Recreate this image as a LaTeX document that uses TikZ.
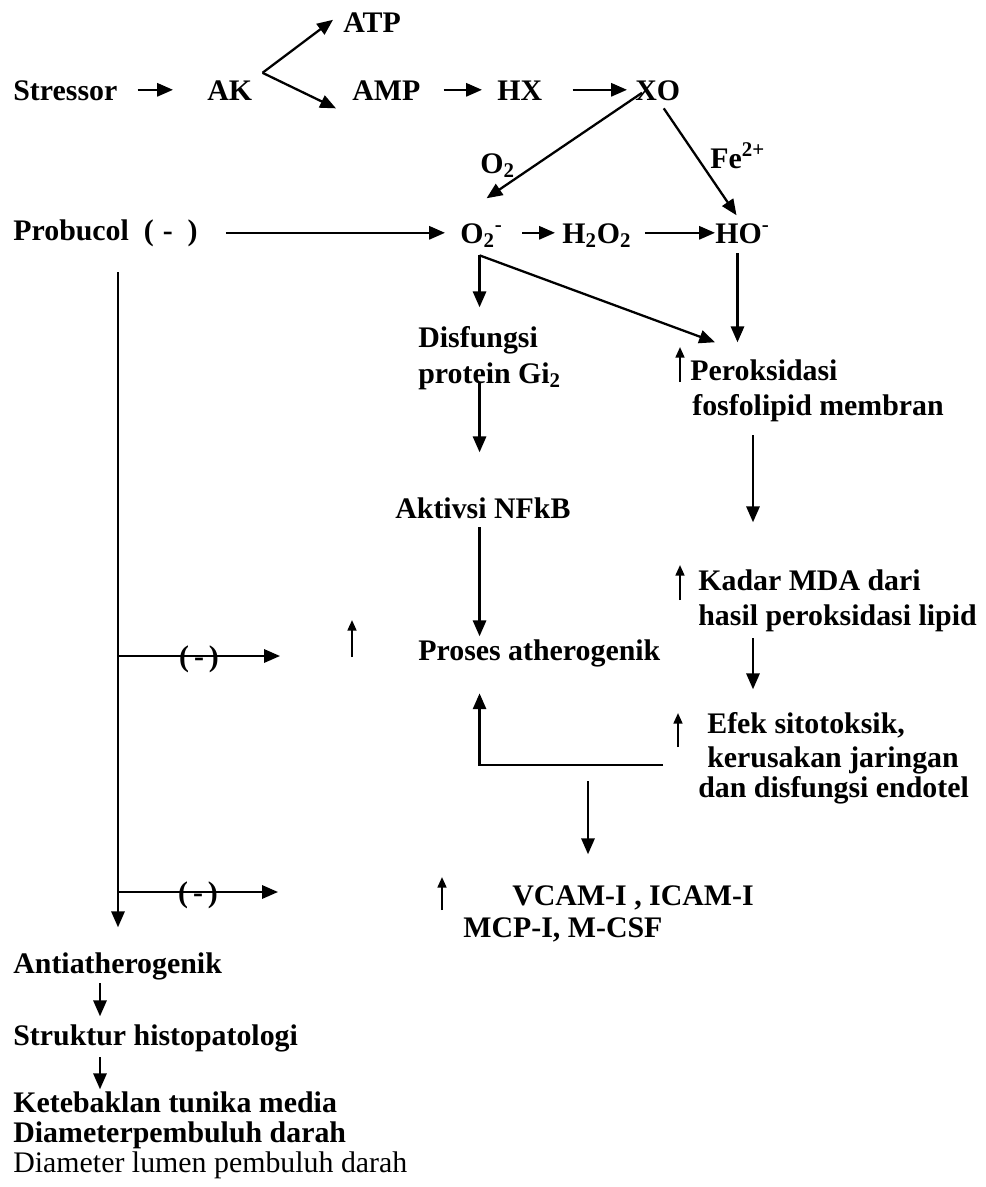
\documentclass[tikz,border=0pt]{standalone}
\usepackage{fontspec}
\setmainfont{Liberation Serif}
\usetikzlibrary{arrows.meta}
\newdimen\pxu \pxu=0.02cm
\tikzset{
  txt/.style={inner sep=0pt, anchor=base west, text height=11.6pt, text depth=0pt,
    font=\fontsize{17}{20}\selectfont\bfseries},
  plain/.style={txt, font=\fontsize{17}{20}\selectfont},
  arr/.style={line width=1.3pt, -{Triangle[length=9pt,width=7.5pt]}},
  incr/.style={line width=1.2pt, -{Triangle[length=6pt,width=5pt]}},
}
\begin{document}
\begin{tikzpicture}[x=0.02cm, y=-0.02cm]
\useasboundingbox (0,0) rectangle (985,1187);
%% top row
\node[txt] (stressor) at (13,100) {Stressor};
\node[txt] (ak) at (207,100) {AK};
\node[txt] (atp) at (343,32) {ATP};
\node[txt] (amp) at (352,100) {AMP};
\node[txt] (hx) at (497,100) {HX};
\node[txt] (xo) at (635,100) {XO};
\draw[arr, shorten <=20*\pxu, shorten >=34*\pxu] (stressor) -- (ak);
\coordinate (akfork) at ([shift={(10,-17)}]ak.east);
\draw[arr] (akfork) -- ([shift={(-10,-2)}]atp.west);
\draw[arr] (akfork) -- ([shift={(-16,8)}]amp.south west);
\draw[arr, shorten <=23*\pxu, shorten >=15*\pxu] (amp) -- (hx);
\draw[arr, shorten <=30*\pxu, shorten >=8*\pxu] (hx) -- (xo);
%% radicals
\node[txt] (lblO) at (480,173) {O\textsubscript{2}};
\node[txt] (lblFe) at (710,168) {Fe\textsuperscript{2+}};
\node[txt] (probucol) at (13,240) {Probucol\hspace{0.5em}(\hspace{0.3em}-\hspace{0.5em})};
\node[txt] (o2m) at (460,243) {O\textsubscript{2}\textsuperscript{-}};
\node[txt] (h2o2) at (562,243) {H\textsubscript{2}O\textsubscript{2}};
\node[txt] (ho) at (715,243) {HO\textsuperscript{-}};
\draw[arr] ([shift={(7,3)}]xo.west) -- ([shift={(5,-24)}]o2m.north);
\draw[arr] ([shift={(6,8)}]xo.south) -- ([shift={(-6,-7)}]ho.north);
\draw[arr, shorten <=28*\pxu, shorten >=15*\pxu] (probucol.east |- o2m.west) -- (o2m.west);
\draw[arr, shorten <=19*\pxu, shorten >=7*\pxu] (o2m) -- (h2o2);
\draw[arr, shorten <=13*\pxu] (h2o2) -- (ho);
%% middle column
\node[txt] (disfA) at (418,347) {Disfungsi};
\node[txt] (disfB) at (418,383) {protein Gi\textsubscript{2}};
\node[txt] (nfkb) at (395,518) {Aktivsi NFkB};
\node[txt] (proses) at (418,660) {Proses atherogenik};
\coordinate (o2fork) at ([shift={(-2,12)}]o2m.south);
\draw[arr, shorten >=19*\pxu] (o2fork) -- (o2fork |- disfA.north);
\draw[arr, shorten >=45*\pxu] (o2fork |- disfB.south) -- (o2fork |- nfkb.north);
\draw[arr, shorten <=9*\pxu, shorten >=3*\pxu] (o2fork |- nfkb.south) -- (o2fork |- proses.north);
%% right column
\node[txt] (perA) at (690,380) {Peroksidasi};
\node[txt] (perB) at (692,415) {fosfolipid membran};
\node[txt] (mdaA) at (698,590) {Kadar MDA dari};
\node[txt] (mdaB) at (698,625) {hasil peroksidasi lipid};
\node[txt] (efA) at (707,733) {Efek sitotoksik,};
\node[txt] (efB) at (707,767) {kerusakan jaringan};
\node[txt] (efC) at (698,797) {dan disfungsi endotel};
\draw[arr] (o2fork) -- ([shift={(25,-17)}]perA.north west);
\coordinate (hoB) at ([shift={(-5,0)}]ho.south);
\draw[arr, shorten <=10*\pxu, shorten >=17*\pxu] (hoB) -- (hoB |- perA.north);
\coordinate (rcol) at ([shift={(61,0)}]perB.south west);
\draw[arr, shorten <=20*\pxu, shorten >=47*\pxu] (rcol) -- (rcol |- mdaA.north);
\draw[arr, shorten <=13*\pxu, shorten >=23*\pxu] (rcol |- mdaB.south) -- (rcol |- efA.north);
\coordinate (lstart) at ([shift={(-44,-2)}]efB.base west);
\draw[arr, shorten >=33*\pxu] (lstart) -| (o2fork |- proses.south);
%% adhesion molecules
\node[txt] (vcam) at (512,905) {VCAM-I , ICAM-I};
\node[txt] (mcp) at (463,937) {MCP-I, M-CSF};
\coordinate (vtop) at ([shift={(76,-103)}]vcam.north west);
\draw[arr, shorten >=30*\pxu] (vtop) -- (vtop |- vcam.north);
%% increase marks
\draw[incr] ([shift={(-10,2)}]perA.base west) -- ++(0,-35);
\draw[incr] ([shift={(-18,10)}]mdaA.base west) -- ++(0,-35);
\draw[incr] ([shift={(-29,14)}]efA.base west) -- ++(0,-34);
\draw[incr] ([shift={(-66,-3)}]proses.base west) -- ++(0,-37);
\draw[incr] ([shift={(-70,5)}]vcam.base west) -- ++(0,-33);
%% probucol line
\node[txt] (anti) at (13,973) {Antiatherogenik};
\node[txt] (strk) at (13,1045) {Struktur histopatologi};
\node[txt] (teb) at (13,1112) {Ketebaklan tunika media};
\node[txt] (diam) at (13,1142) {Diameterpembuluh darah};
\node[plain] (lumen) at (13,1172) {Diameter lumen pembuluh darah};
\coordinate (pdown) at ([shift={(105,32)}]probucol.south west);
\draw[arr, shorten >=25*\pxu] (pdown) -- (pdown |- anti.north);
\coordinate (br1) at (118,656);
\coordinate (br1e) at (280,656);
\coordinate (br2) at (118,892);
\coordinate (br2e) at (278,892);
\draw[arr] (br1) -- (br1e) node[midway, txt, anchor=center] {(\,-\,)};
\draw[arr] (br2) -- (br2e) node[midway, txt, anchor=center] {(\,-\,)};
\coordinate (acol) at ([shift={(87,0)}]anti.south west);
\draw[arr, shorten <=10*\pxu, shorten >=8*\pxu] (acol) -- (acol |- strk.north);
\draw[arr, shorten <=12*\pxu, shorten >=2*\pxu] (acol |- strk.south) -- (acol |- teb.north);
\end{tikzpicture}
\end{document}
